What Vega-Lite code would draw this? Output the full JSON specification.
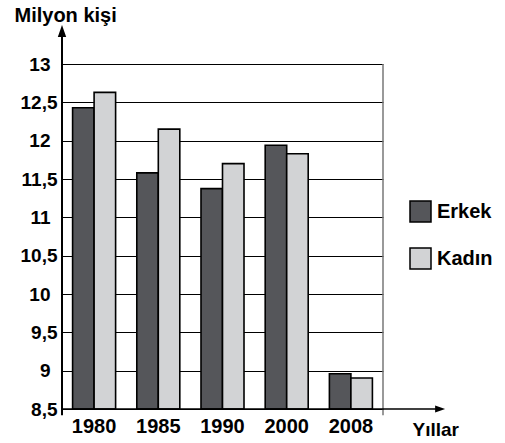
{
  "$schema": "https://vega.github.io/schema/vega-lite/v6.json",
  "width": 321,
  "height": 345,
  "autosize": {"type": "none"},
  "padding": {"left": 62, "top": 64, "right": 122, "bottom": 34},
  "background": "white",
  "config": {"view": {"stroke": null}, "font": "Liberation Sans"},
  "data": {"values": [
    {"yil": "1980", "cinsiyet": "Erkek", "milyon": 12.43},
    {"yil": "1980", "cinsiyet": "Kadın", "milyon": 12.63},
    {"yil": "1985", "cinsiyet": "Erkek", "milyon": 11.58},
    {"yil": "1985", "cinsiyet": "Kadın", "milyon": 12.15},
    {"yil": "1990", "cinsiyet": "Erkek", "milyon": 11.375},
    {"yil": "1990", "cinsiyet": "Kadın", "milyon": 11.7},
    {"yil": "2000", "cinsiyet": "Erkek", "milyon": 11.94},
    {"yil": "2000", "cinsiyet": "Kadın", "milyon": 11.83},
    {"yil": "2008", "cinsiyet": "Erkek", "milyon": 8.96},
    {"yil": "2008", "cinsiyet": "Kadın", "milyon": 8.905}
  ]},
  "layer": [
    {
      "mark": {"type": "bar", "stroke": "black", "strokeWidth": 1.6},
      "encoding": {
        "x": {"field": "yil", "type": "nominal", "scale": {"paddingInner": 0.33, "paddingOuter": 0.165},
          "axis": {"title": "Yıllar", "labelAngle": 0, "labelFontSize": 20, "labelFontWeight": "bold", "labelColor": "black", "labelPadding": 7, "ticks": false, "tickSize": 0, "domain": false,
            "titleFontSize": 19, "titleFontWeight": "bold", "titleColor": "black", "titleX": 350, "titleY": 26, "titleAlign": "left", "titleBaseline": "alphabetic"}},
        "xOffset": {"field": "cinsiyet", "type": "nominal", "scale": {"paddingInner": 0, "paddingOuter": 0}},
        "y": {"field": "milyon", "type": "quantitative", "scale": {"domain": [8.5, 13], "nice": false, "zero": false},
          "axis": {"title": "Milyon kişi", "values": [8.5, 9, 9.5, 10, 10.5, 11, 11.5, 12, 12.5, 13],
            "labelExpr": "replace(toString(datum.value), '.', ',')",
            "labelFontSize": 19, "labelFontWeight": "bold", "labelColor": "black",
            "labelPadding": {"condition": {"test": "datum.value % 1 === 0", "value": 12}, "value": 5},
            "ticks": false, "tickSize": 0, "domain": false, "grid": true, "gridColor": "black", "gridWidth": 1,
            "titleAngle": 0, "titleX": -48, "titleY": -43, "titleAlign": "left", "titleBaseline": "alphabetic",
            "titleFontSize": 20, "titleFontWeight": "bold", "titleColor": "black"}},
        "y2": {"datum": 8.5},
        "fill": {"field": "cinsiyet", "type": "nominal", "scale": {"domain": ["Erkek", "Kadın"], "range": ["#55565a", "#d2d3d5"]},
          "legend": {"title": null, "orient": "none", "legendX": 347, "legendY": 136, "symbolType": "square", "symbolSize": 441,
            "symbolStrokeColor": "black", "symbolStrokeWidth": 1.5, "labelFontSize": 20, "labelFontWeight": "bold", "labelColor": "black",
            "labelOffset": 5, "rowPadding": 20, "padding": 0, "labelLimit": 200}}
      }
    },
    {
      "data": {"values": [{}]},
      "layer": [
        {
          "mark": {"type": "rule", "color": "#777", "strokeWidth": 1.5},
          "encoding": {
            "x": {"datum": 1, "type": "quantitative", "scale": {"domain": [0, 1], "nice": false, "zero": false}, "axis": null},
            "y": {"datum": 8.42, "type": "quantitative", "scale": {"domain": [8.5, 13], "nice": false, "zero": false}, "axis": null},
            "y2": {"datum": 13}
          }
        },
        {
          "mark": {"type": "rule", "color": "black", "strokeWidth": 2},
          "encoding": {
            "x": {"datum": 0, "type": "quantitative", "axis": null},
            "y": {"datum": 8.42, "type": "quantitative", "axis": null},
            "y2": {"datum": 13.43}
          }
        },
        {
          "mark": {"type": "rule", "color": "black", "strokeWidth": 1.5},
          "encoding": {
            "x": {"datum": 0, "type": "quantitative", "axis": null},
            "x2": {"datum": 1.17},
            "y": {"datum": 8.5, "type": "quantitative", "axis": null}
          }
        },
        {
          "mark": {"type": "point", "filled": true, "color": "black", "opacity": 1, "shape": "M0,-1L0.7,1L-0.7,1Z", "size": 144},
          "encoding": {
            "x": {"datum": 0, "type": "quantitative", "axis": null},
            "y": {"datum": 13.43, "type": "quantitative", "axis": null}
          }
        },
        {
          "mark": {"type": "point", "filled": true, "color": "black", "opacity": 1, "shape": "M1,0L-1,0.7L-1,-0.7Z", "size": 100},
          "encoding": {
            "x": {"datum": 1.178, "type": "quantitative", "axis": null},
            "y": {"datum": 8.5, "type": "quantitative", "axis": null}
          }
        }
      ]
    }
  ],
  "resolve": {"scale": {"x": "independent", "y": "independent", "fill": "independent"}, "axis": {"x": "independent", "y": "independent"}}
}
